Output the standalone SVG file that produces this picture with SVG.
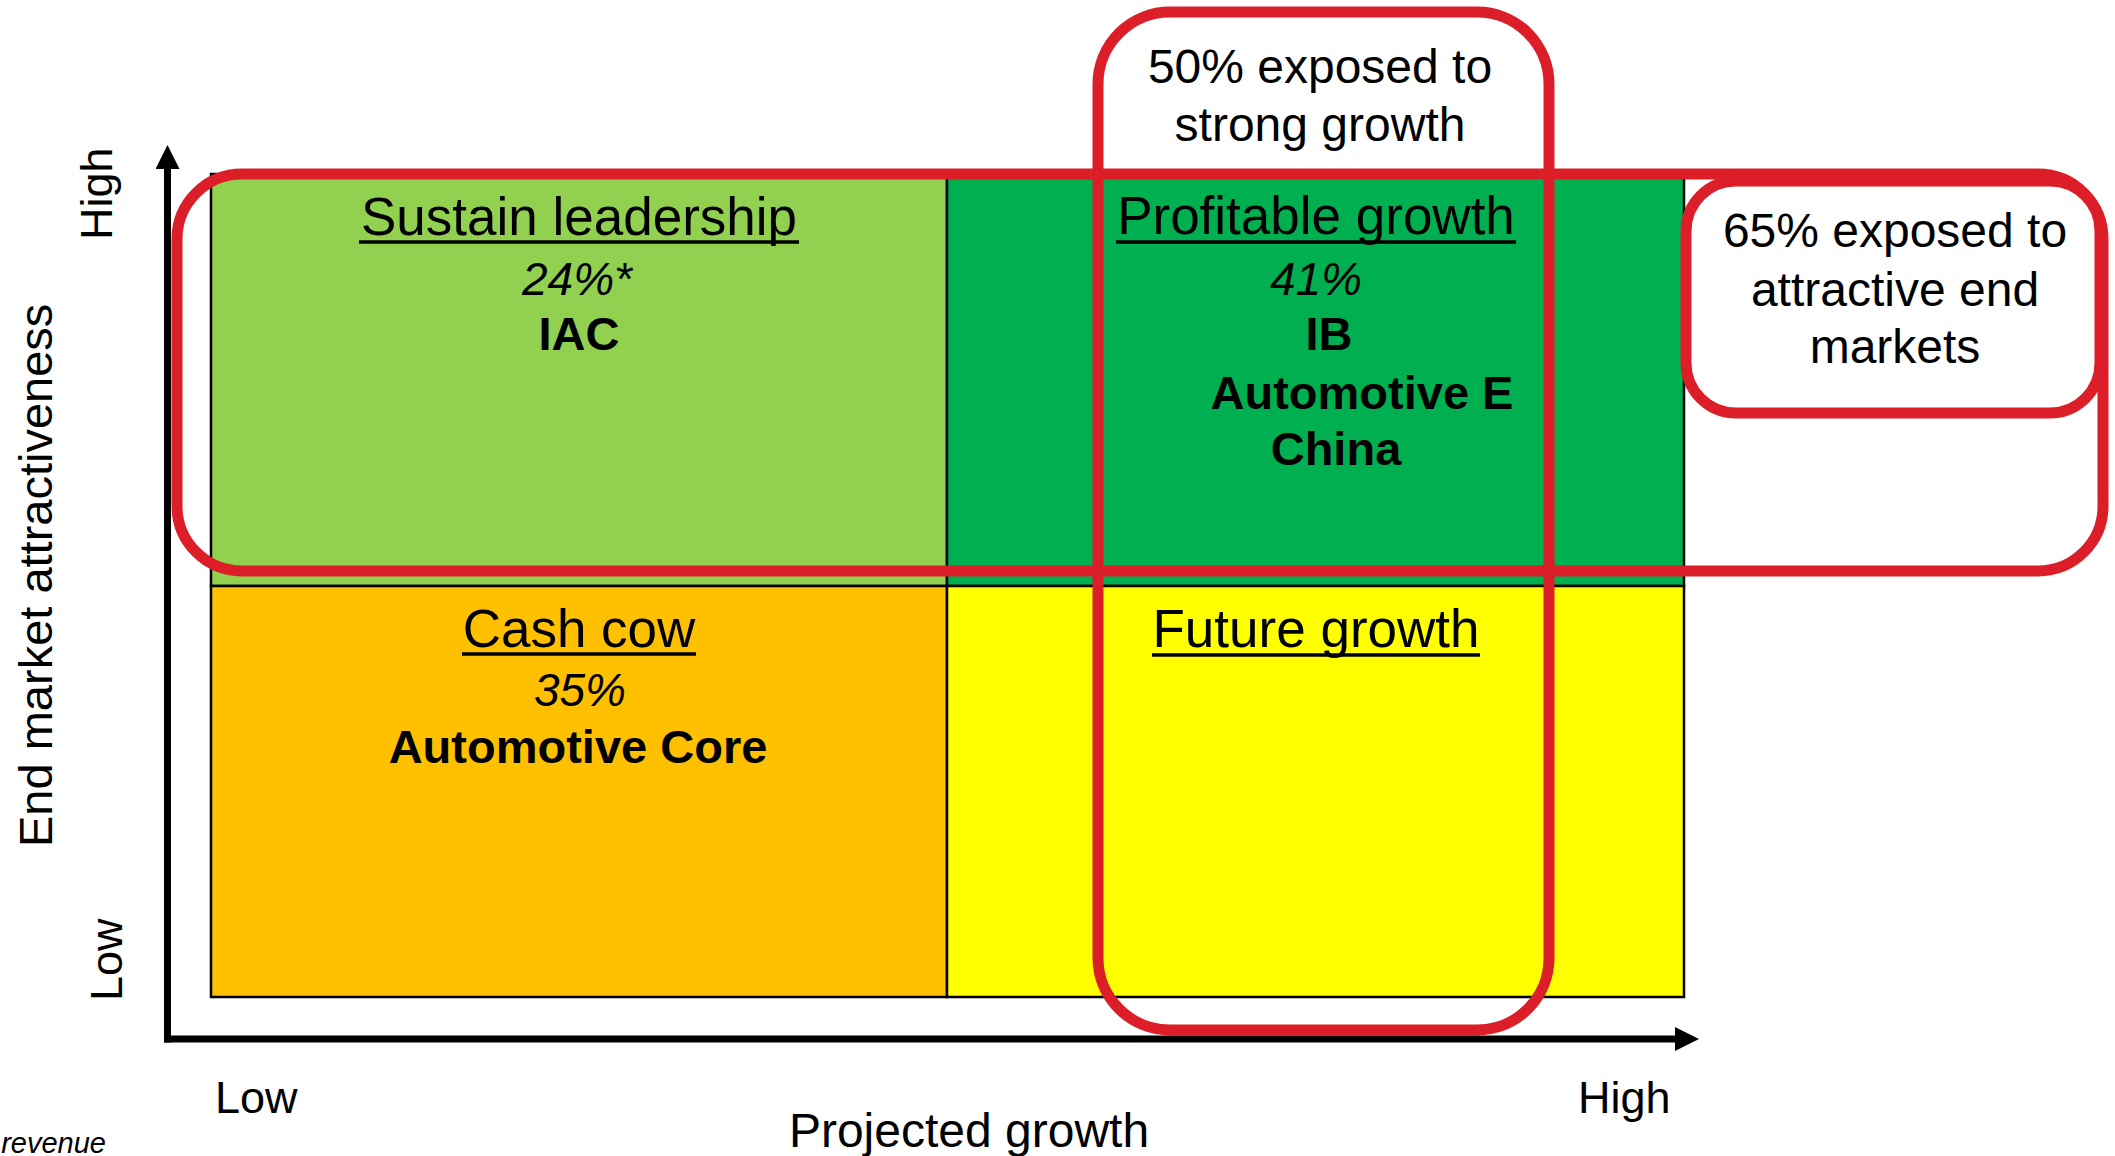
<svg xmlns="http://www.w3.org/2000/svg" width="2115" height="1156" viewBox="0 0 2115 1156">
<defs>
<style>
text{font-family:"Liberation Sans",Arial,sans-serif;fill:#000}
.t{font-size:53px;text-anchor:middle}
.u{stroke:#000;stroke-width:3.5}
.p{font-size:46px;font-style:italic;text-anchor:middle}
.b{font-size:47px;font-weight:bold;text-anchor:middle}
.n{font-size:48px;text-anchor:middle}
.ax{font-size:45px}
.q{stroke:#000;stroke-width:2.5}
.red{fill:none;stroke:#DC1E28;stroke-width:11}
.axis{stroke:#000;stroke-width:7;fill:none}
</style>
<marker id="arr" viewBox="0 0 24 24" refX="0" refY="12" markerWidth="24" markerHeight="24" markerUnits="userSpaceOnUse" orient="auto">
<path d="M0,0 L24,12 L0,24 Z" fill="#000"/>
</marker>
</defs>
<rect width="2115" height="1156" fill="#fff"/>
<g id="quadrant-sustain">
<rect class="q" x="211" y="174" width="736" height="412" fill="#92D050"/>
<text class="t" x="579" y="235">Sustain leadership</text>
<line class="u" x1="359" y1="242" x2="799" y2="242"/>
<text class="p" x="577" y="295">24%*</text>
<text class="b" x="579" y="350">IAC</text>
</g>
<g id="quadrant-profitable">
<rect class="q" x="947" y="174" width="737" height="412" fill="#00B050"/>
<text class="t" x="1316" y="234">Profitable growth</text>
<line class="u" x1="1116" y1="242" x2="1516" y2="242"/>
<text class="p" x="1316" y="295">41%</text>
<text class="b" x="1329" y="350">IB</text>
<text class="b" x="1362" y="409">Automotive E</text>
<text class="b" x="1336" y="465">China</text>
</g>
<g id="quadrant-cashcow">
<rect class="q" x="211" y="586" width="736" height="411" fill="#FFC000"/>
<text class="t" x="579" y="647">Cash cow</text>
<line class="u" x1="462" y1="654" x2="696" y2="654"/>
<text class="p" x="580" y="706">35%</text>
<text class="b" x="578" y="763">Automotive Core</text>
</g>
<g id="quadrant-future">
<rect class="q" x="947" y="586" width="737" height="411" fill="#FFFF00"/>
<text class="t" x="1316" y="647">Future growth</text>
<line class="u" x1="1152" y1="655" x2="1480" y2="655"/>
</g>
<g id="highlight-attractive">
<rect class="red" x="177" y="174" width="1926" height="397" rx="65" ry="65"/>
</g>
<g id="highlight-growth">
<rect class="red" x="1098" y="12" width="451" height="1018" rx="72" ry="72"/>
<text class="n" x="1320" y="83">50% exposed to</text>
<text class="n" x="1320" y="141">strong growth</text>
</g>
<g id="callout-attractive">
<rect class="red" x="1686" y="181" width="414" height="232" rx="50" ry="50" style="fill:#fff"/>
<text class="n" x="1895" y="247">65% exposed to</text>
<text class="n" x="1895" y="306">attractive end</text>
<text class="n" x="1895" y="363">markets</text>
</g>
<g id="connectors">
<line class="axis" x1="167.5" y1="1042.5" x2="167.5" y2="169" marker-end="url(#arr)"/>
<line class="axis" x1="164" y1="1039" x2="1675" y2="1039" marker-end="url(#arr)"/>
</g>
<g id="axis-labels">
<text class="ax" transform="translate(112,240) rotate(-90)">High</text>
<text class="ax" transform="translate(122,1001) rotate(-90)">Low</text>
<text style="font-size:47px" transform="translate(52,847) rotate(-90)">End market attractiveness</text>
<text class="ax" x="215" y="1113">Low</text>
<text class="ax" x="1578" y="1113">High</text>
<text class="n" x="969" y="1147">Projected growth</text>
<text style="font-size:29px;font-style:italic;text-anchor:end" x="106" y="1153">revenue</text>
</g>
</svg>
